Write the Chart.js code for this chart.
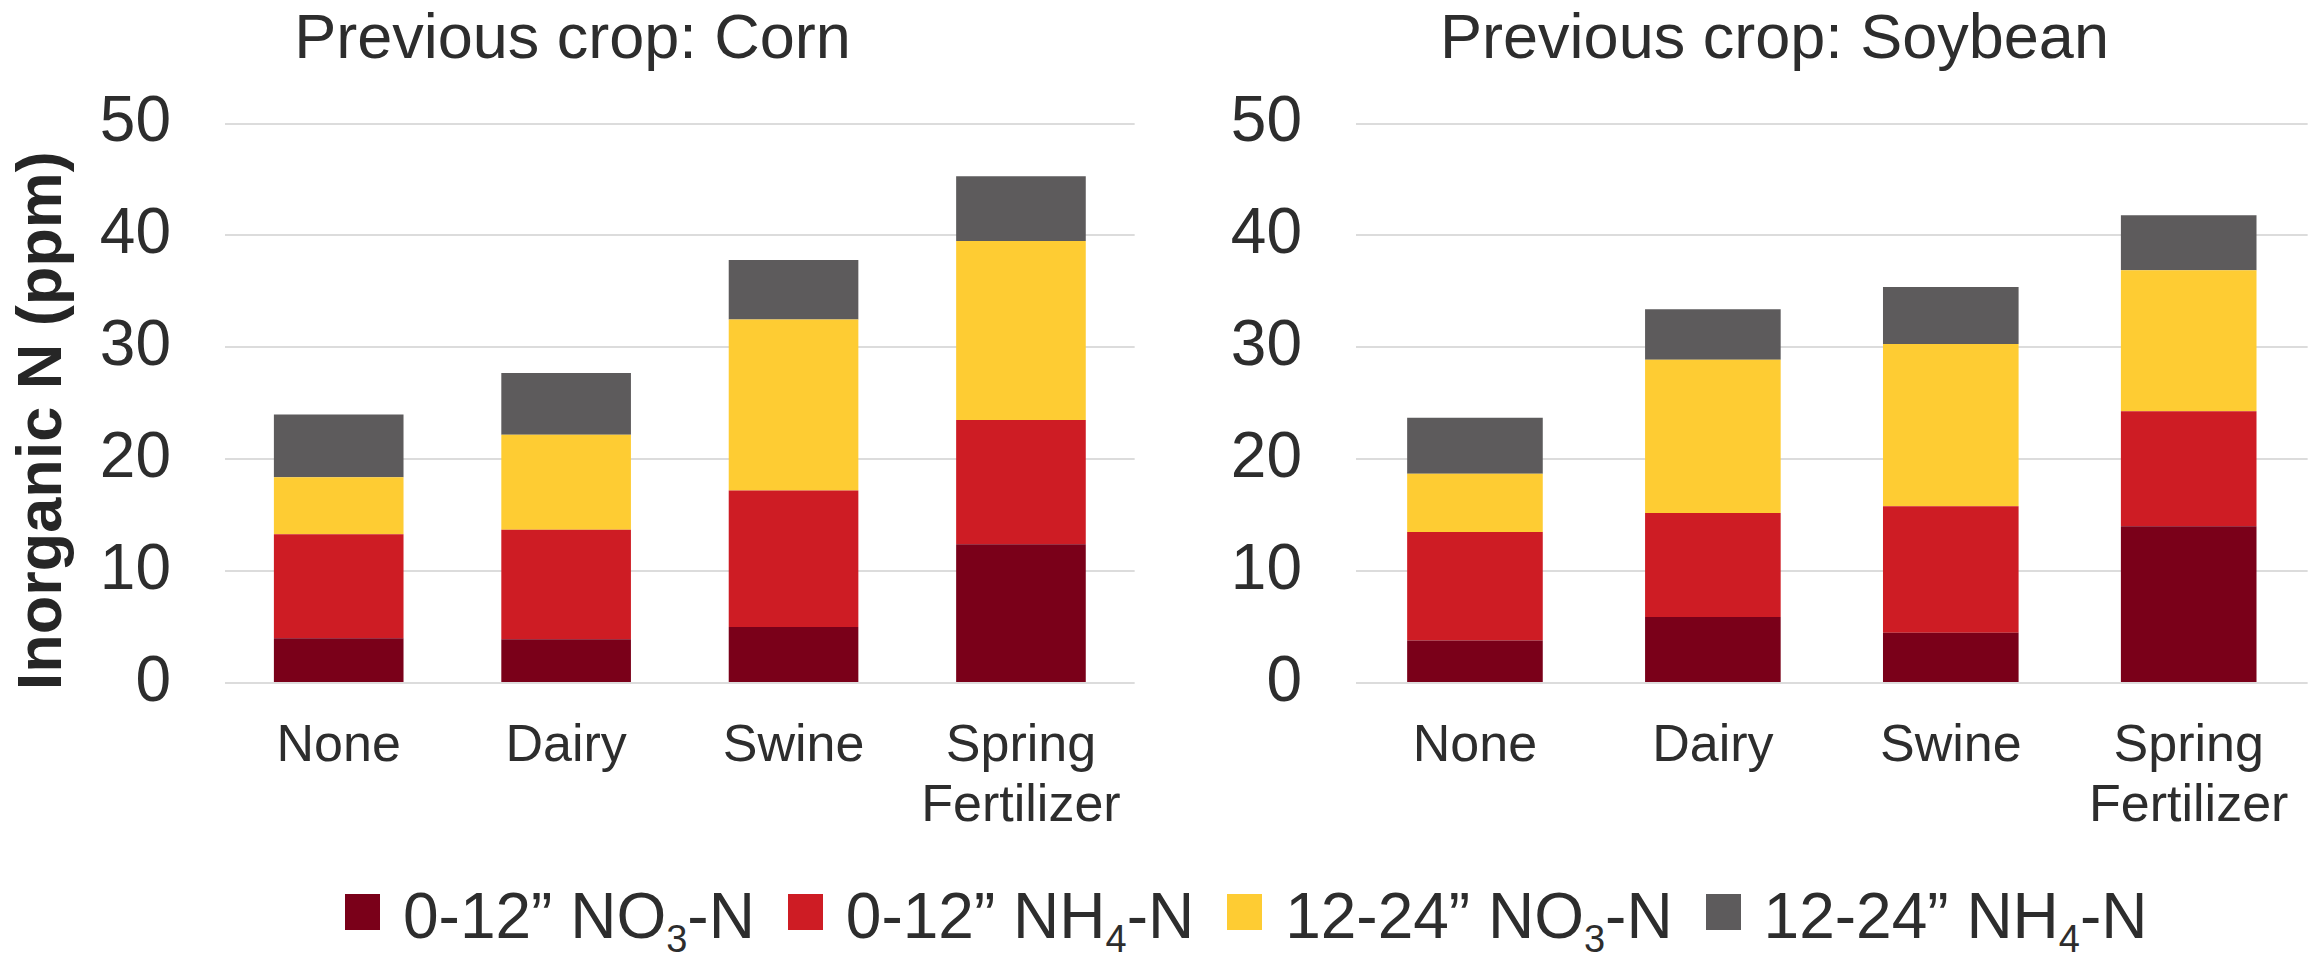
<!DOCTYPE html>
<html>
<head>
<meta charset="utf-8">
<title>Inorganic N by previous crop</title>
<script src="https://cdn.jsdelivr.net/npm/chart.js@4.4.1/dist/chart.umd.min.js"></script>
<style>
  html, body { margin: 0; padding: 0; background: #fff; }
  body {
    width: 2323px; height: 956px; position: relative; overflow: hidden;
    font-family: "Liberation Sans", Arial, sans-serif; color: #2d2d2d;
  }
  canvas { position: absolute; top: 0; }
  #chart-corn { left: 0; }
  #chart-soy  { left: 1160px; }

  #legend {
    position: absolute; left: 345px; top: 880px;
    display: flex; font-size: 64px; line-height: 72px; white-space: nowrap;
  }
  .legend-item   { display: flex; align-items: flex-start; margin-right: 33px; }
  .legend-swatch { width: 35px; height: 36px; margin-top: 14px; margin-right: 23px; }
  .legend-item sub { font-size: 38px; vertical-align: -14px; line-height: 0; }
</style>
</head>
<body>
<canvas id="chart-corn" width="1156" height="850"></canvas>
<canvas id="chart-soy" width="1163" height="850"></canvas>
<div id="legend"></div>

<script>
'use strict';

// ── Data ──────────────────────────────────────────────────────────────────────
const categories = ['None', 'Dairy', 'Swine', ['Spring', 'Fertilizer']];
const yTicks     = { min: 0, max: 50, step: 10 };

// Previous crop: corn (ppm)
const cornNO3_0_12  = [4.0, 3.9, 5.0, 12.4];
const cornNH4_0_12  = [9.3, 9.8, 12.2, 11.1];
const cornNO3_12_24 = [5.1, 8.5, 15.3, 16.0];
const cornNH4_12_24 = [5.6, 5.5, 5.3, 5.8];

// Previous crop: soybean (ppm)
const soyNO3_0_12  = [3.8, 5.9, 4.5, 14.0];
const soyNH4_0_12  = [9.7, 9.3, 11.3, 10.3];
const soyNO3_12_24 = [5.2, 13.7, 14.5, 12.6];
const soyNH4_12_24 = [5.0, 4.5, 5.1, 4.9];

// Series labels (html for the legend, plain for Chart.js) and fills
const seriesHtml   = ['0-12” NO<sub>3</sub>-N', '0-12” NH<sub>4</sub>-N', '12-24” NO<sub>3</sub>-N', '12-24” NH<sub>4</sub>-N'];
const seriesLabels = ['0-12” NO3-N', '0-12” NH4-N', '12-24” NO3-N', '12-24” NH4-N'];
const seriesColors = ['#7A0019', '#CE1C24', '#FECC33', '#5D5B5C'];

// ── Shared look ───────────────────────────────────────────────────────────────
const FONT = '"Liberation Sans", Arial, sans-serif';
const TEXT = '#2d2d2d';
const GRID = '#DCDCDC';

Chart.defaults.font.family = FONT;
Chart.defaults.color       = TEXT;

function makeDatasets(seriesValues) {
    return seriesValues.map((values, i) => ({
        label: seriesLabels[i],
        data: values,
        backgroundColor: seriesColors[i],
        borderWidth: 0,
        barPercentage: 0.57,
        categoryPercentage: 1.0
    }));
}

// yWidth / xHeight pin the axis boxes so both panels line up the same way
function buildChart(canvasId, title, seriesValues, withAxisTitle, padding, yWidth) {
    const ctx = document.getElementById(canvasId).getContext('2d');
    return new Chart(ctx, {
        type: 'bar',
        data: { labels: categories, datasets: makeDatasets(seriesValues) },
        options: {
            responsive: false,
            animation: false,
            devicePixelRatio: 1,
            layout: { padding },
            plugins: {
                legend: { display: false },
                tooltip: { enabled: false },
                title: {
                    display: true,
                    text: title,
                    color: TEXT,
                    font: { size: 63, weight: 'normal' },
                    padding: { top: 3, bottom: 45 }
                }
            },
            scales: {
                x: {
                    stacked: true,
                    grid: { display: false, drawTicks: false },
                    border: { display: false },
                    afterFit: s => { s.height = 154; },
                    ticks: {
                        padding: 34,
                        maxRotation: 0,
                        autoSkip: false,
                        color: TEXT,
                        font: { size: 52, lineHeight: '60px' }
                    }
                },
                y: {
                    stacked: true,
                    min: yTicks.min,
                    max: yTicks.max,
                    grid: { color: GRID, lineWidth: 2, drawTicks: false },
                    border: { display: false },
                    afterFit: s => { s.width = yWidth; },
                    ticks: {
                        stepSize: yTicks.step,
                        padding: 54,
                        color: TEXT,
                        font: { size: 64 }
                    },
                    title: {
                        display: withAxisTitle,
                        // trailing spaces nudge the rotated title toward the baseline
                        text: 'Inorganic N (ppm)  ',
                        color: '#262626',
                        font: { size: 63, weight: 'bold' },
                        padding: { top: 6, bottom: 18 }
                    }
                }
            }
        }
    });
}

buildChart('chart-corn', 'Previous crop: Corn',
    [cornNO3_0_12, cornNH4_0_12, cornNO3_12_24, cornNH4_12_24],
    true, { left: 0, right: 11, bottom: 13 }, 225);

buildChart('chart-soy', 'Previous crop: Soybean',
    [soyNO3_0_12, soyNH4_0_12, soyNO3_12_24, soyNH4_12_24],
    false, { left: 71, right: 5, bottom: 13 }, 125);

// ── Shared legend below both panels ───────────────────────────────────────────
document.getElementById('legend').innerHTML = seriesHtml.map((label, i) => `
    <div class="legend-item">
        <span class="legend-swatch" style="background:${seriesColors[i]}"></span>
        <span>${label}</span>
    </div>
`).join('');
</script>
</body>
</html>
